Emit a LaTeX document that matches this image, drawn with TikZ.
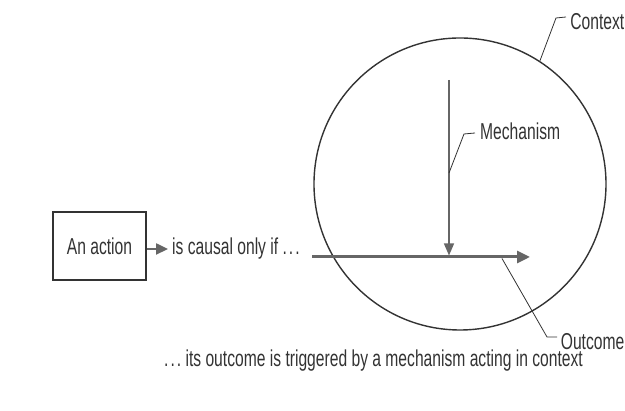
\documentclass[tikz,border=0pt]{standalone}
\usepackage{fontspec}
\setmainfont{Liberation Sans}[FakeStretch=0.68]
\usetikzlibrary{arrows.meta,positioning}
\definecolor{ink}{HTML}{333333}
\definecolor{shade}{HTML}{666666}
\newcommand{\dotsgap}{.\kern2pt.\kern2pt.}
\tikzset{
	label/.style={font=\fontsize{23}{26}\selectfont, text=ink, inner sep=0pt},
	leader/.style={draw=ink, line width=0.8pt},
	flow/.style={draw=shade, -{Triangle[length=13pt,width=12pt]}},
}
\begin{document}
\begin{tikzpicture}[x=1pt,y=1pt]
		\useasboundingbox (0,0) rectangle (625,411);

		% Draw the context circle
		\node[circle, draw=ink, line width=1.4pt, minimum size=292pt, inner sep=0pt] (ctx) at (460,227) {};

		% Action box and first arrow
		\node[draw=ink, line width=1.6pt, minimum width=93pt, minimum height=68pt, label] (act) at (99.5,165) {An action};
		\node[label, anchor=west] (causal) at (172,162) {is causal only if \dotsgap};
		\draw[flow, line width=2.4pt, -{Triangle[length=12pt,width=11pt]}] (act.east |- causal.west) -- ([xshift=-4pt]causal.west);

		% Outcome arrow through the circle
		\coordinate (start) at (312,154);
		\coordinate (finish) at (530,154);
		\draw[flow, line width=3pt] (start) -- (finish);

		% Mechanism arrow
		\coordinate (mtop) at (449,331);
		\coordinate (mhit) at (449,155.5);
		\draw[flow, line width=1.3pt, -{Triangle[length=12pt,width=10pt]}] (mtop) -- (mhit);

		% Labels with their leaders
		\node[label, anchor=east] (ctxlab) at (624.5,389.5) {Context};
		\node[label, anchor=west] (mechlab) at (480,280) {Mechanism};
		\node[label, anchor=east] (outlab) at (624.5,69) {Outcome};
		\draw[leader] (ctx.57) -- (556,393) -- (566,394);
		\draw[leader] (449,238) -- (464,277) -- (475,278);
		\draw[leader] (502,152.5) -- (547,74) -- (557,74);

		% Caption
		\node[label] (caption) at (373.5,50) {\dotsgap\ its outcome is triggered by a mechanism acting in context};
	\end{tikzpicture}
\end{document}
